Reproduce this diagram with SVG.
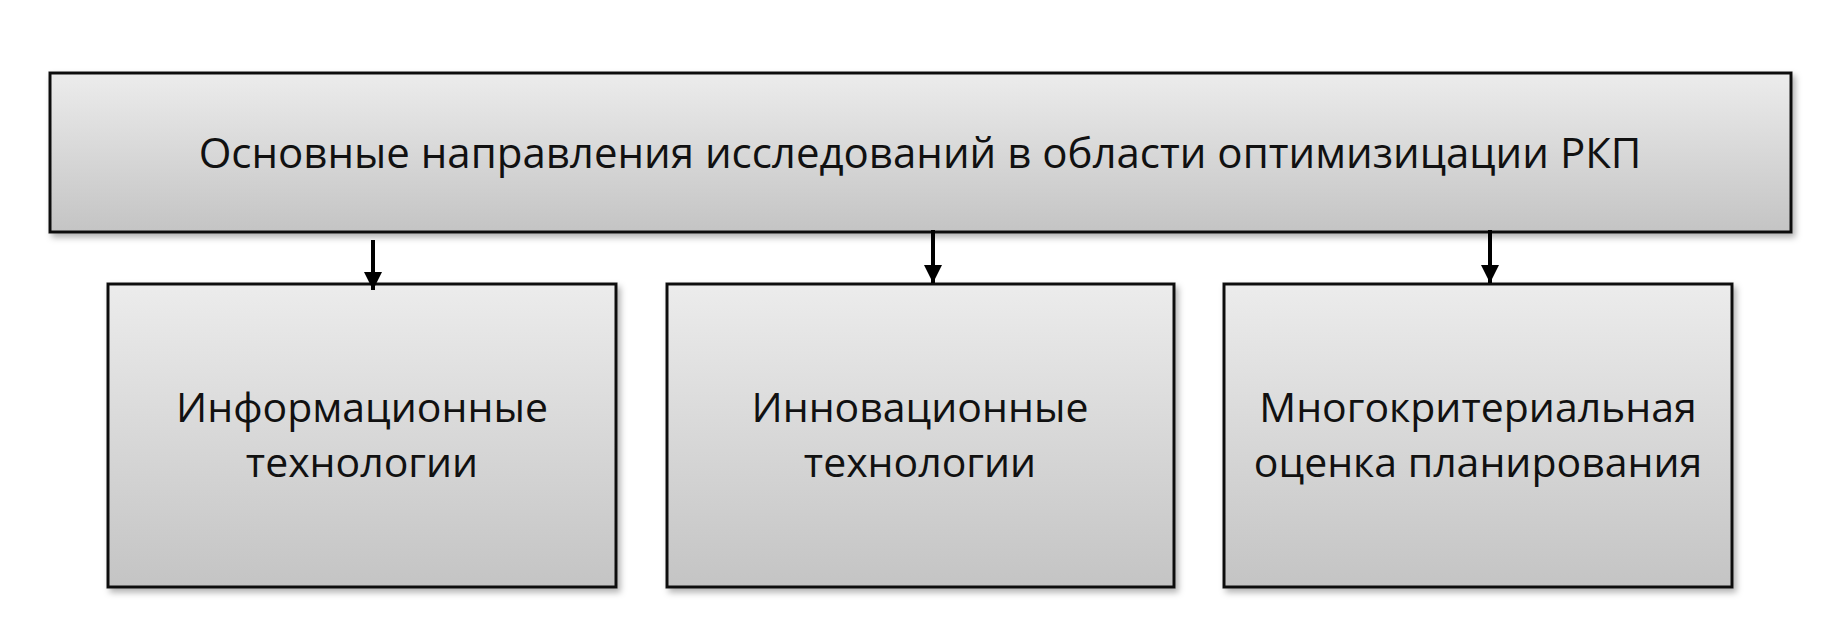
<svg xmlns="http://www.w3.org/2000/svg" width="1848" height="634" viewBox="0 0 1848 634">
<defs>
<linearGradient id="g" x1="0" y1="0" x2="0" y2="1"><stop offset="0" stop-color="#ececec"/><stop offset="1" stop-color="#c4c4c4"/></linearGradient>
<filter id="s" x="-5%" y="-5%" width="110%" height="115%"><feDropShadow dx="3" dy="4" stdDeviation="3" flood-color="#000" flood-opacity="0.3"/></filter>
<marker id="a" viewBox="0 0 10 10" refX="10" refY="5" markerWidth="4.5" markerHeight="4.5" orient="auto"><path d="M0,0 L10,5 L0,10 z" fill="#000"/></marker>
</defs>
<style>
.b{fill:url(#g);stroke:#111;stroke-width:3;filter:url(#s)}
.t{font-family:"Open Sans","Noto Sans",sans-serif;fill:#111;text-anchor:middle}
.c{stroke:#000;stroke-width:4;marker-end:url(#a)}
</style>
<rect width="1848" height="634" fill="#fff"/>
<g id="top"><rect class="b" x="50" y="73" width="1741" height="159"/><text class="t" x="920" y="168" font-size="42">Основные направления исследований в области оптимизицации РКП</text></g>
<g id="n1"><rect class="b" x="108" y="284" width="508" height="303"/><text class="t" x="362" y="422" font-size="41">Информационные</text><text class="t" x="362" y="477" font-size="41">технологии</text></g>
<g id="n2"><rect class="b" x="667" y="284" width="507" height="303"/><text class="t" x="920" y="422" font-size="41">Инновационные</text><text class="t" x="920" y="477" font-size="41">технологии</text></g>
<g id="n3"><rect class="b" x="1224" y="284" width="508" height="303"/><text class="t" x="1478" y="422" font-size="41">Многокритериальная</text><text class="t" x="1478" y="477" font-size="41">оценка планирования</text></g>
<g id="connectors">
<line class="c" x1="373" y1="240" x2="373" y2="290"/>
<line class="c" x1="933" y1="230" x2="933" y2="283"/>
<line class="c" x1="1490" y1="230" x2="1490" y2="283"/>
</g>
</svg>
